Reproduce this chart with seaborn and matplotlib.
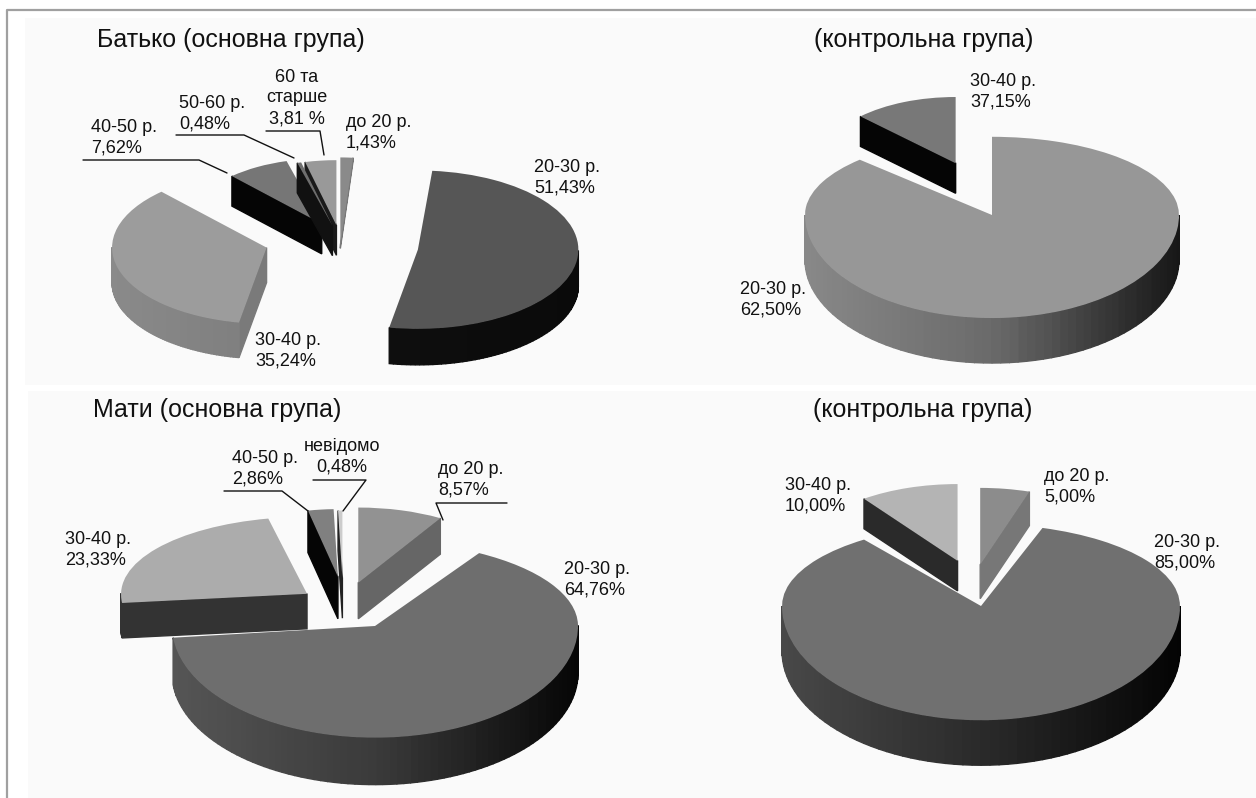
import numpy as np
import matplotlib
matplotlib.use("Agg")
import matplotlib.pyplot as plt
import seaborn as sns
from matplotlib.transforms import Transform

W, H = 1256, 798

# slice sizes as drawn, clockwise from 12 o'clock
father_main_sizes = [1.43, 51.43, 35.24, 7.62, 0.48, 3.81]
father_ctrl_sizes = [87.5, 12.5]
mother_main_sizes = [8.57, 64.76, 23.33, 2.86, 0.48]
mother_ctrl_sizes = [5.0, 85.0, 10.0]

titles = ["Батько (основна група)", "(контрольна група)", "Мати (основна група)", "(контрольна група)"]
father_main_labels = ["до 20 р.\n1,43%", "20-30 р.\n51,43%", "30-40 р.\n35,24%", "40-50 р.\n7,62%", "50-60 р.\n0,48%", "60 та\nстарше\n3,81 %"]
father_ctrl_labels = ["20-30 р.\n62,50%", "30-40 р.\n37,15%"]
mother_main_labels = ["до 20 р.\n8,57%", "20-30 р.\n64,76%", "30-40 р.\n23,33%", "40-50 р.\n2,86%", "невідомо\n0,48%"]
mother_ctrl_labels = ["до 20 р.\n5,00%", "20-30 р.\n85,00%", "30-40 р.\n10,00%"]

# up / down squeeze the far and near half of a slice, the original has perspective
charts = [
    dict(sizes=father_main_sizes, center=(340, 240), scale=(150, 74),
         explode=[0.05, 0.47, 0.51, 0.25, 0.2, 0.2], radius=[0.95, 1.07, 1.03, 0.88, 0.88, 0.88],
         shift=[(0, 9), (8, 5), (0, -3), (0, 0), (0, 0), (0, 0)],
         up=[1.25, 1, 1, 1, 1, 1], down=[1, 1, 1, 1, 1, 1],
         depth=[3, 36, 35, 30, 30, 30],
         tops=["#8a8a8a", "#565656", "#9c9c9c", "#767676", "#6e6e6e", "#999999"],
         rims=[["#777777", "#777777"], ["#111111", "#0a0a0a"], ["#8a8a8a", "#707070"], ["#0a0a0a", "#0a0a0a"], ["#111111", "#111111"], ["#222222", "#222222"]],
         cuts=["#777777", "#0a0a0a", "#7a7a7a", "#050505", "#111111", "#1a1a1a"]),
    dict(sizes=father_ctrl_sizes, center=(994, 226), scale=(187, 92),
         explode=[0.0, 0.55], radius=[1.0, 0.72],
         shift=[(-2, -11), (1, -16)],
         up=[0.85, 1], down=[1.12, 1],
         depth=[45, 30],
         tops=["#979797", "#787878"],
         rims=[["#888888", "#6a6a6a", "#161616"], ["#050505", "#050505"]],
         cuts=["#555555", "#050505"]),
    dict(sizes=mother_main_sizes, center=(375, 634), scale=(200, 94),
         explode=[0.4, 0.0, 0.42, 0.42, 0.2], radius=[0.8, 1.015, 0.93, 0.72, 0.72],
         shift=[(-38, -15), (0, -8), (0, -17), (-27, -18), (-32, -37)],
         up=[1, 0.89, 0.88, 1, 1], down=[1, 1.17, 1, 1, 1],
         depth=[36, 47, 35, 42, 40],
         tops=["#929292", "#6e6e6e", "#acacac", "#808080", "#cccccc"],
         rims=[["#666666", "#666666"], ["#555555", "#3a3a3a", "#050505"], ["#333333", "#333333"], ["#050505", "#050505"], ["#222222", "#222222"]],
         cuts=["#666666", "#444444", "#333333", "#050505", "#222222"]),
    dict(sizes=mother_ctrl_sizes, center=(981, 618), scale=(199, 96),
         explode=[0.52, 0.0, 0.56], radius=[0.8, 1.0, 0.8],
         shift=[(-17, -4), (0, -12), (11, -6)],
         up=[1, 0.855, 1], down=[1, 1.19, 1],
         depth=[34, 45, 30],
         tops=["#8c8c8c", "#707070", "#b4b4b4"],
         rims=[["#777777", "#777777"], ["#484848", "#2a2a2a", "#030303"], ["#2a2a2a", "#2a2a2a"]],
         cuts=["#777777", "#444444", "#2a2a2a"]),
]


class HalfSqueeze(Transform):
    input_dims = output_dims = 2

    def __init__(self, y0, up, down):
        super().__init__()
        self.y0, self.up, self.down = y0, up, down

    def transform_non_affine(self, values):
        out = np.array(values, dtype=float)
        dy = out[:, 1] - self.y0
        out[:, 1] = self.y0 + dy * np.where(dy > 0, self.up, self.down)
        return out


def arc_xy(c, r, t, up, down):
    s = np.sin(np.radians(t))
    return c[0] + r * np.cos(np.radians(t)), c[1] + r * s * (up if s > 0 else down)


def draw_pie(fig, chart):
    cx, cy = chart["center"]
    a, b = chart["scale"]
    ax = fig.add_axes([0, 0, 1, 1], facecolor="none")
    wedges, _ = ax.pie(chart["sizes"], explode=chart["explode"], colors=chart["tops"], startangle=90,
                       counterclock=False, wedgeprops=dict(linewidth=0))
    ax.set_aspect("auto")
    ax.set_xlim(-cx / a, (W - cx) / a)
    ax.set_ylim((cy - H) / b, cy / b)
    ax.axis("off")

    # biggest slice goes in first, the pulled out ones sit over it
    order = np.argsort(chart["sizes"])[::-1]
    for k, i in enumerate(order):
        w = wedges[i]
        w.set_radius(chart["radius"][i])
        sx, sy = chart["shift"][i]
        w.set_center((w.center[0] + sx / a, w.center[1] - sy / b))
        r = w.r
        c = w.center
        up, down = chart["up"][i], chart["down"][i]
        w.set_transform(HalfSqueeze(c[1], up, down) + ax.transData)
        d = chart["depth"][i] / b
        z = 10 + 2 * k
        w.set_zorder(z + 1)
        shades = sns.blend_palette(chart["rims"][i], 101)
        faces = []
        # cut faces that look towards the viewer
        for t, normal in ((w.theta1, w.theta1 - 90), (w.theta2, w.theta2 + 90)):
            if np.sin(np.radians(normal)) < -0.02:
                x1, y1 = arc_xy(c, r, t, up, down)
                faces.append(((c[1] + y1) / 2, [c[0], x1, x1, c[0]], [c[1], y1, y1 - d, c[1] - d], chart["cuts"][i]))
        thetas = np.linspace(w.theta1, w.theta2, 120)
        for t0, t1 in zip(thetas[:-1], thetas[1:]):
            tm = (t0 + t1) / 2
            if np.sin(np.radians(tm)) >= 0:
                continue
            x0, y0 = arc_xy(c, r, t0, up, down)
            x1, y1 = arc_xy(c, r, t1, up, down)
            shade = shades[int(50 * (1 + np.cos(np.radians(tm))))]
            faces.append(((y0 + y1) / 2, [x0, x1, x1, x0], [y0, y1, y1 - d, y0 - d], shade))
        # back to front
        for _, xs, ys, col in sorted(faces, key=lambda f: -f[0]):
            ax.fill(xs, ys, color=col, lw=1.0, zorder=z)
    return ax


sns.set_theme(style="white")
plt.rcParams["font.family"] = ["Liberation Sans", "DejaVu Sans"]
plt.rcParams["text.color"] = "#111111"

fig = plt.figure(figsize=(W / 100, H / 100), dpi=100, facecolor="white")

# page furniture, in pixels
bg = fig.add_axes([0, 0, 1, 1], facecolor="none")
bg.set_xlim(0, W)
bg.set_ylim(H, 0)
bg.axis("off")
bg.fill_between([25, W], 18, 385, color="#fafafa", lw=0)
bg.fill_between([28, W], 391, H, color="#fafafa", lw=0)
bg.plot([7, 7, W], [H, 10, 10], color="#a0a0a0", lw=1.6)

for chart in charts:
    draw_pie(fig, chart)

top = fig.add_axes([0, 0, 1, 1], facecolor="none", zorder=50)
top.set_xlim(0, W)
top.set_ylim(H, 0)
top.axis("off")

leaders = [
    ([83, 199, 227], [160, 160, 173]),
    ([176, 244, 294], [135, 135, 158]),
    ([266, 320, 324], [131, 131, 155]),
    ([224, 282, 308], [491, 491, 511]),
    ([313, 366, 343], [480, 480, 511]),
    ([507, 436, 443], [503, 503, 520]),
]
for xs, ys in leaders:
    top.plot(xs, ys, color="#111111", lw=1.0)

for txt, x, y in zip(titles, [97, 814, 93, 813], [40, 40, 410, 410]):
    top.text(x, y, txt, fontsize=18, va="center", ha="left")

label_pos = [
    (father_main_labels, [346, 534, 255, 91, 179, 297], [133, 178, 351, 138, 114, 98]),
    (father_ctrl_labels, [740, 970], [300, 92]),
    (mother_main_labels, [438, 564, 65, 232, 342], [480, 580, 550, 469, 457]),
    (mother_ctrl_labels, [1044, 1154, 785], [487, 553, 496]),
]
for labels, xs, ys in label_pos:
    for txt, x, y in zip(labels, xs, ys):
        centred = txt.startswith("60") or txt.startswith("невідомо")
        top.text(x, y, txt, fontsize=13, va="center", ha="center" if centred else "left",
                 multialignment="center" if centred else "left", linespacing=1.3)

fig.savefig("out.png", dpi=100)
